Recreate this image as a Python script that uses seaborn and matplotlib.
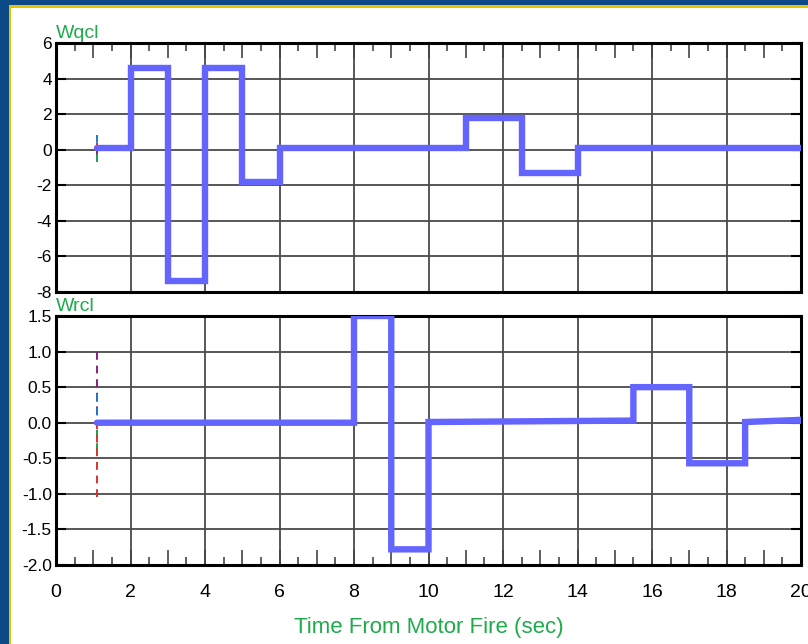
import numpy as np
import pandas as pd
import matplotlib
matplotlib.use("Agg")
import matplotlib.pyplot as plt
from matplotlib.patches import Rectangle
from matplotlib.ticker import FormatStrFormatter
import seaborn as sns

# ---------------- data ----------------
# Wqcl command (thick blue) as step corner points
wq_t   = [1.1, 2.0, 2.0, 3.0, 3.0, 4.0, 4.0, 5.0, 5.0, 6.0, 6.0, 11.0, 11.0, 12.5, 12.5, 14.0, 14.0, 20.0]
wq_cmd = [0.1, 0.1, 4.6, 4.6, -7.4, -7.4, 4.6, 4.6, -1.8, -1.8, 0.1, 0.1, 1.8, 1.8, -1.3, -1.3, 0.1, 0.1]
wq_rsp = [0.0, 0.0, 4.5, 4.5, -7.5, -7.5, 4.5, 4.5, -1.8, -1.8, 0.0, 0.0, 1.7, 1.7, -1.3, -1.3, 0.0, 0.0]

# Wrcl command (thick blue) as step corner points
wr_t   = [1.1, 8.0, 8.0, 9.0, 9.0, 10.0, 10.0, 15.5, 15.5, 17.0, 17.0, 18.5, 18.5, 20.0]
wr_cmd = [0.0, 0.0, 1.5, 1.5, -1.78, -1.78, 0.01, 0.03, 0.5, 0.5, -0.57, -0.57, 0.01, 0.04]
wr_rsp = [0.0, 0.0, 1.47, 1.47, -1.8, -1.8, 0.0, 0.0, 0.5, 0.5, -0.6, -0.6, 0.0, 0.0]

# thin dashed traces: names, colours, initial transient values at t = 1.1
trace_names  = ["purple", "blue", "green", "red"]
trace_colors = ["#8a1f7e", "#1f7ac8", "#1aa04a", "#d8322c"]
wq_start = [-0.3, 0.8, -0.7, 0.4]
wr_start = [1.0, 0.4, -0.4, -1.05]

x_ticks = [0, 2, 4, 6, 8, 10, 12, 14, 16, 18, 20]
wq_yticks = [-8, -6, -4, -2, 0, 2, 4, 6]
wr_yticks = [-2.0, -1.5, -1.0, -0.5, 0.0, 0.5, 1.0, 1.5]

# ---------------- style ----------------
sns.set_theme(style="white")
plt.rcParams["font.family"] = ["Liberation Sans", "DejaVu Sans"]
plt.rcParams["axes.unicode_minus"] = False
GREEN = "#1faa4b"
MAIN = "#6464ff"

W, H = 808, 644
fig = plt.figure(figsize=(W / 100, H / 100), dpi=100)
fig.patch.set_facecolor("#0b4a86")
fig.patches.append(Rectangle((9 / W, 0), 1, 1 - 5 / H, transform=fig.transFigure,
                             facecolor="#e6c200", edgecolor="none", zorder=-2))
fig.patches.append(Rectangle((11 / W, 0), 1, 1 - 8 / H, transform=fig.transFigure,
                             facecolor="white", edgecolor="none", zorder=-1))

L, R = 56 / W, 801 / W
ax1 = fig.add_axes([L, 1 - 292 / H, R - L, (292 - 43) / H])
ax2 = fig.add_axes([L, 1 - 565 / H, R - L, (565 - 316) / H])


def draw(ax, t, cmd, rsp, starts):
    for name, col, s in zip(trace_names, trace_colors, starts):
        df = pd.DataFrame({"t": [t[0]] + list(t), "v": [s] + list(rsp)})
        sns.lineplot(data=df, x="t", y="v", ax=ax, sort=False, estimator=None,
                     color=col, lw=1.4, linestyle=(0, (4, 3)), zorder=3)
    dfm = pd.DataFrame({"t": t, "v": cmd})
    sns.lineplot(data=dfm, x="t", y="v", ax=ax, sort=False, estimator=None,
                 color=MAIN, lw=4.6, solid_joinstyle="miter", zorder=4)


draw(ax1, wq_t, wq_cmd, wq_rsp, wq_start)
draw(ax2, wr_t, wr_cmd, wr_rsp, wr_start)

ax1.set_ylim(-8, 6)
ax2.set_ylim(-2.0, 1.5)
ax1.set_yticks(wq_yticks)
ax2.set_yticks(wr_yticks)
ax2.yaxis.set_major_formatter(FormatStrFormatter("%.1f"))

for ax, top in ((ax1, True), (ax2, False)):
    ax.set_xlim(0, 20)
    ax.set_xticks(x_ticks)
    ax.set_xticks([1, 3, 5, 7, 9, 11, 13, 15, 17, 19], minor=True)
    ax.set_xlabel("")
    ax.set_ylabel("")
    ax.set_facecolor("white")
    ax.grid(True, which="major", color="#4a4a4a", lw=1.3)
    for sp in ax.spines.values():
        sp.set_color("black")
        sp.set_linewidth(2.2)
    ax.tick_params(axis="y", which="major", direction="in", length=7, width=1.5,
                   color="black", left=True, right=True, labelsize=12.5, pad=3,
                   labelcolor="black")
    ax.tick_params(axis="x", which="both", direction="in", width=1.2, color="#444444",
                   top=top, bottom=not top, labeltop=False,
                   labelbottom=not top, labelsize=14, pad=14, labelcolor="black")
    ax.tick_params(axis="x", which="major", length=11)
    ax.tick_params(axis="x", which="minor", length=11)
    sec = ax.secondary_xaxis("top" if top else "bottom")
    sec.set_xticks([i + 0.5 for i in range(20)])
    sec.tick_params(direction="in", length=6, width=1.2, color="#444444",
                    labeltop=False, labelbottom=False)
    for sp in sec.spines.values():
        sp.set_visible(False)

ax1.text(0.0, 1.005, "Wqcl", transform=ax1.transAxes, ha="left", va="bottom",
         color=GREEN, fontsize=14)
ax2.text(0.0, 1.005, "Wrcl", transform=ax2.transAxes, ha="left", va="bottom",
         color=GREEN, fontsize=14)
fig.text((L + R) / 2, 1 - 628 / H, "Time From Motor Fire (sec)", ha="center",
         va="center", color=GREEN, fontsize=16)

fig.savefig("out.png", dpi=100, facecolor=fig.get_facecolor())
